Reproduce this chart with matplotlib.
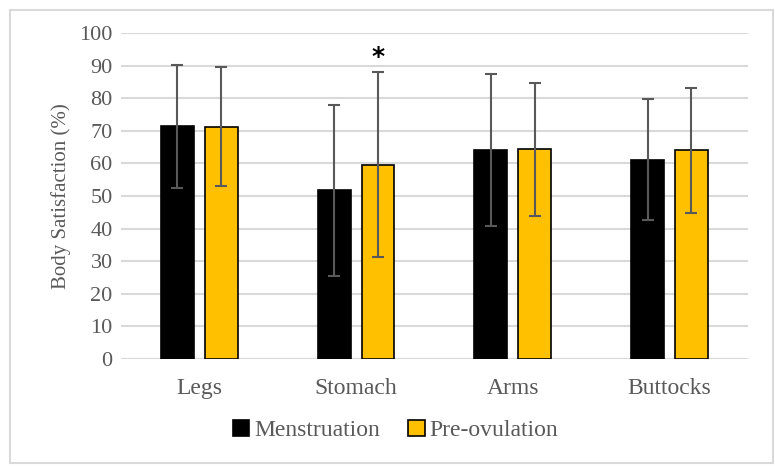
import matplotlib.pyplot as plt
import matplotlib.patches as patches
import numpy as np

categories = ['Legs', 'Stomach', 'Arms', 'Buttocks']
menstruation = [71.4, 51.7, 64.2, 61.2]
menstruation_sd = [18.9, 26.2, 23.4, 18.5]
pre_ovulation = [71.3, 59.6, 64.3, 64.1]
pre_ovulation_sd = [18.3, 28.4, 20.4, 19.2]

plt.rcParams['font.family'] = ['Liberation Serif', 'DejaVu Serif']
grey = '#595959'

fig = plt.figure(figsize=(7.75, 4.74), dpi=100)
ax = fig.add_axes([0.156, 0.243, 0.809, 0.687])

x = np.arange(len(categories))
w = 0.21
err_kw = dict(ecolor=grey, elinewidth=1.5, capsize=4, capthick=1.5)
ax.bar(x - 0.14, menstruation, w, yerr=menstruation_sd, color='black',
       edgecolor='black', linewidth=1.2, label='Menstruation', error_kw=err_kw, zorder=3)
ax.bar(x + 0.14, pre_ovulation, w, yerr=pre_ovulation_sd, color='#FFC000',
       edgecolor='black', linewidth=1.2, label='Pre-ovulation', error_kw=err_kw, zorder=3)

# significance marker
ax.text(x[1] + 0.14, pre_ovulation[1] + pre_ovulation_sd[1] + 1.0, '*',
        ha='center', va='bottom', fontsize=18, fontweight='bold', family='DejaVu Sans')

ax.set_xlim(-0.5, 3.5)
ax.set_ylim(0, 100)
ax.set_yticks(range(0, 101, 10))
ax.set_xticks(x)
ax.set_xticklabels(categories)
ax.grid(axis='y', color='#d9d9d9', linewidth=1.5, zorder=0)
for s in ax.spines.values():
    s.set_visible(False)
ax.tick_params(length=0, labelsize=16, colors=grey, pad=6)
ax.tick_params(axis='x', labelsize=17, pad=14)
ax.set_ylabel('Body Satisfaction (%)', fontsize=15, color=grey, labelpad=6)

fig.legend(loc='center', bbox_to_anchor=(0.51, 0.092), ncol=2, frameon=False,
           fontsize=17, handlelength=0.7, handleheight=0.7, handletextpad=0.2,
           columnspacing=1.2, labelcolor=grey)

fig.patches.append(patches.Rectangle((0.013, 0.023), 0.984, 0.955, transform=fig.transFigure,
                                     fill=False, edgecolor='#d9d9d9', linewidth=1.5))

fig.savefig('out.png', dpi=100)
